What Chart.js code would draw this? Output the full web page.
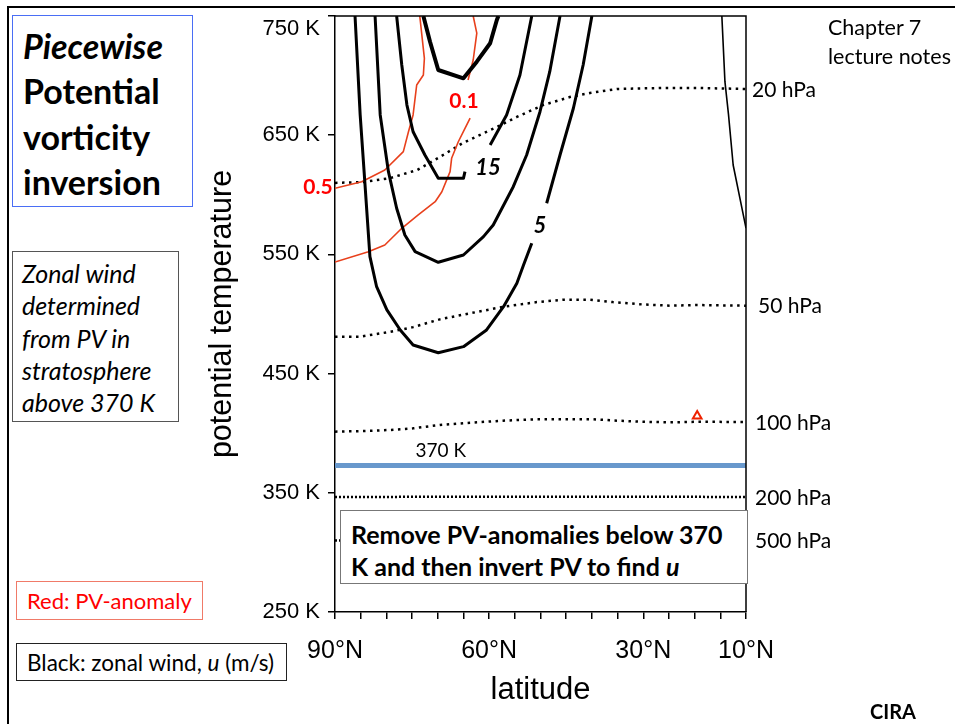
<!DOCTYPE html>
<html>
<head>
<meta charset="utf-8">
<script src="https://cdn.jsdelivr.net/npm/chart.js@4.4.1/dist/chart.umd.min.js"></script>
<style>
  html, body { margin: 0; padding: 0; background: #fff; }
  body { width: 955px; height: 724px; position: relative; overflow: hidden; font-family: Lato, sans-serif; color: #000; }
  #plot { position: absolute; left: 0; top: 0; }
  .frame { position: absolute; left: 7px; top: 6px; width: 980px; height: 760px; border-top: 2px solid #000; border-left: 2px solid #000; }
  .box { position: absolute; box-sizing: border-box; background: #fff; white-space: nowrap; }
  .txt { position: absolute; white-space: nowrap; }
</style>
</head>
<body>
<canvas id="plot" width="955" height="724"></canvas>
<div class="frame"></div>

<div class="box" style="left:12px;top:15px;width:181px;height:192px;border:1px solid #4a6ef5;padding:7px 0 0 10px;font-weight:bold;font-size:34px;line-height:45.3px;">
  <i>Piecewise</i><br>Potential<br>vorticity<br>inversion
</div>

<div class="box" style="left:12px;top:251px;width:167px;height:171px;border:1px solid #555;padding:5px 0 0 9px;font-style:italic;font-size:25px;line-height:32.3px;">
  Zonal wind<br>determined<br>from PV in<br>stratosphere<br>above 370 K
</div>

<div class="box" style="left:16px;top:581px;width:187px;height:39px;border:1px solid #f07a68;padding:1px 0 0 10px;font-size:22px;line-height:35px;color:#ff0000;">
  Red: PV-anomaly
</div>

<div class="box" style="left:16px;top:643px;width:271px;height:38px;border:1px solid #222;padding:1px 0 0 10px;font-size:22.5px;line-height:35px;">
  Black: zonal wind, <i>u</i> (m/s)
</div>

<div class="box" style="left:340px;top:510px;width:408px;height:74px;border:1px solid #777;padding:7px 0 0 10px;font-weight:bold;font-size:25px;line-height:32px;">
  Remove PV-anomalies below 370<br>K and then invert PV to find <i>u</i>
</div>

<div class="txt" style="left:828px;top:13px;font-size:21.5px;line-height:29px;">Chapter 7<br>lecture notes</div>
<div class="txt" style="left:870px;top:700px;font-size:20px;line-height:22px;font-weight:bold;">CIRA</div>

<script>
// latitude (deg N) / potential temperature (K) pairs, null = gap for a label
const u5 = [[86.1, 750], [85.1, 667], [84.2, 611], [83.2, 548.1], [81.9, 522.9], [79.9, 503.4], [77.3, 486.6],
  [74.8, 474], [69.9, 467.5], [65.0, 472.6], [60.5, 486.6], [57.2, 506.1], [54.6, 525.8], [53.3, 541.1],
  [51.7, 559.3], [50.2, null], [48.8, 592.9], [46.2, 633.4], [43.6, 672.6], [41.7, 708.9], [40.0, 750]];
const u10 = [[82.2, 750], [81.2, 667], [79.6, 619.4], [78.0, 588.7], [76.4, 566.3], [74.4, 552.3], [69.9, 543.4],
  [65.0, 549.5], [61.1, 564.9], [59.2, 574.7], [55.3, 606.8], [52.7, 633.4], [50.1, 669.7], [48.2, 703.3], [46.2, 750]];
const u15 = [[78.0, 750], [77.0, 708.9], [76.0, 675.3], [74.8, 652.9], [72.5, 633.4], [69.9, 613.8], [65.0, 613.8],
  [64.7, 619.4], [62.0, null], [59.8, 641.8], [56.6, 667], [54.0, 700.5], [51.7, 750]];
const u20 = [[72.8, 750], [71.5, 728.4], [69.9, 704.7], [65.0, 697.7], [62.4, 711.7], [59.8, 727.1], [58.5, 746.6], [58.2, 750]];
const uTrop = [[14.7, 750], [14.1, 694.9], [13.4, 667], [12.5, 625], [10.0, 572]];

const pvHigh = [[90, 605.5], [84.8, 611], [80.3, 620.8], [76.7, 636.2], [75.7, 652.9], [74.8, 667], [74.1, 692.1],
  [72.8, 700.5], [72.6, 714.5], [73.5, 750]];
const pvLow = [[90, 543.6], [83.5, 552.3], [80.3, 557.9], [77.0, 571.9], [73.8, 583.1], [70.5, 594.2], [69.2, 602.6],
  [67.6, 619.4], [67.3, 630.6], [66.0, 644.5], [64.7, 655.8], [63.7, 664.4], [64.0, null], [64.1, 696.3],
  [63.1, 713.1], [62.4, 735.7], [63.1, 750]];
const pvMark = [[19.5, 414.5]];

const p20 = [[90, 610], [84.5, 610.7], [79.3, 614], [74.0, 620.8], [69.6, 631.7], [65.1, 643.5], [58.5, 656.9],
  [54.6, 665.3], [49.5, 675.3], [44.3, 682], [40.4, 685.4], [35.1, 688.8], [26.2, 689.6], [19.5, 689.6], [10, 688.8]];
const p50 = [[90, 481], [85.1, 481], [79.3, 485], [74.8, 489], [69.6, 495.5], [63.7, 500.6], [57.3, 506], [50.7, 510],
  [45.6, 512], [40.4, 512], [35.9, 510], [30.1, 508], [24.8, 507], [19.5, 507.5], [10, 507]];
const p100 = [[90, 401.3], [84.5, 401.8], [79.3, 402.7], [74.8, 404.1], [69.6, 406.9], [63.7, 408.8], [57.3, 410.5],
  [50.7, 411.7], [45.6, 411.7], [39.8, 411.7], [35.1, 410.5], [30.1, 409.6], [24.8, 409.1], [19.5, 409.6], [10, 409.4]];
const p200 = [[90, 346.5], [60, 346.7], [30, 346.7], [10, 346.5]];
const p500 = [[90, 310], [10, 310]];
const theta370 = [[90, 373], [10, 373]];

const pressureNames = ['20 hPa', '50 hPa', '100 hPa', '200 hPa', '500 hPa'];
const pressureShift = [6, 12, 9, 9, 9];
const windLabels = [['15', 60.2, 622.5], ['5', 50.1, 573.8]];
const pvLabels = [['0.1', 64.9, 678.7], ['0.5', 93.3, 606.5]];
const xTickLabels = { 90: '90°N', 60: '60°N', 30: '30°N', 10: '10°N' };

const pts = (arr) => arr.map(([x, y]) => ({ x, y }));

function line(data, color, width, dash) {
  return {
    data: pts(data),
    showLine: true,
    borderColor: color,
    borderWidth: width,
    borderDash: dash || [],
    borderJoinStyle: 'round',
    pointRadius: 0,
    pointHoverRadius: 0,
    tension: 0,
    spanGaps: false,
    fill: false,
  };
}

const pressureLines = [p20, p50, p100, p200, p500];

const overlay = {
  id: 'overlay',
  afterDatasetsDraw(chart) {
    const { ctx, chartArea: a, scales: { x, y } } = chart;
    ctx.save();
    ctx.strokeStyle = '#000';
    ctx.lineWidth = 1.5;
    ctx.beginPath();
    ctx.moveTo(a.left, a.top);
    ctx.lineTo(a.right, a.top);
    ctx.lineTo(a.right, a.bottom);
    ctx.stroke();

    ctx.textAlign = 'center';
    ctx.textBaseline = 'middle';
    ctx.fillStyle = '#000';
    ctx.font = 'italic bold 22px Lato';
    for (const [t, lat, th] of windLabels) {
      ctx.fillText(t, x.getPixelForValue(lat), y.getPixelForValue(th));
    }
    ctx.fillStyle = '#ff0000';
    ctx.font = 'bold 21px Lato';
    for (const [t, lat, th] of pvLabels) {
      ctx.fillText(t, x.getPixelForValue(lat), y.getPixelForValue(th));
    }

    ctx.fillStyle = '#000';
    ctx.font = '19px Lato';
    ctx.fillText('370 K', x.getPixelForValue(69.4), y.getPixelForValue(385));

    ctx.textAlign = 'left';
    ctx.font = '21px Lato';
    pressureLines.forEach((arr, i) => {
      const last = arr[arr.length - 1];
      ctx.fillText(pressureNames[i], a.right + pressureShift[i], y.getPixelForValue(last[1]) + 1);
    });
    ctx.restore();
  },
};

new Chart(document.getElementById('plot'), {
  type: 'scatter',
  data: {
    datasets: [
      line(u20, '#000', 4),
      line(u15, '#000', 3),
      line(u10, '#000', 3),
      line(u5, '#000', 3),
      line(uTrop, '#000', 1.6),
      line(pvHigh, '#e8401c', 1.6),
      line(pvLow, '#e8401c', 1.6),
      {
        data: pts(pvMark),
        pointStyle: 'triangle',
        pointRadius: 5,
        pointHoverRadius: 5,
        pointBorderWidth: 2,
        pointBorderColor: '#ee2200',
        pointBackgroundColor: '#fff',
        showLine: false,
      },
      line(theta370, '#6898cc', 5),
      line(p20, '#000', 2.5, [2.5, 4.5]),
      line(p50, '#000', 2.5, [2.5, 4.5]),
      line(p100, '#000', 2.5, [2.5, 4.5]),
      line(p200, '#000', 2.5, [2, 2]),
      line(p500, '#000', 2.5, [2, 2]),
    ],
  },
  options: {
    responsive: false,
    animation: false,
    events: [],
    layout: { padding: { left: 204.7, right: 209, top: 16, bottom: 15.4 } },
    plugins: { legend: { display: false }, tooltip: { enabled: false } },
    scales: {
      x: {
        type: 'linear',
        min: 10,
        max: 90,
        reverse: true,
        afterFit: (s) => { s.height = 96.6; s.paddingLeft = 0; s.paddingRight = 0; },
        border: { display: true, color: '#000', width: 1.5 },
        grid: { drawOnChartArea: false, drawTicks: true, tickLength: 7, color: '#000', lineWidth: 1.5 },
        ticks: {
          stepSize: 5,
          autoSkip: false,
          maxRotation: 0,
          padding: 17,
          color: '#000',
          font: { size: 25 },
          callback: (v) => xTickLabels[v] || '',
        },
        title: { display: true, text: 'latitude', color: '#000', font: { size: 31 }, padding: 0 },
      },
      y: {
        type: 'linear',
        min: 250,
        max: 750,
        afterFit: (s) => { s.width = 130.3; s.paddingTop = 0; s.paddingBottom = 0; },
        border: { display: true, color: '#000', width: 1.5 },
        grid: { drawOnChartArea: false, drawTicks: true, tickLength: 7, color: '#000', lineWidth: 1.5 },
        ticks: {
          stepSize: 100,
          padding: 8,
          color: '#000',
          font: { size: 22 },
          callback: (v) => (v === 750 ? ['', '750 K'] : v + ' K'),
        },
        title: { display: true, text: 'potential temperature', color: '#000', font: { size: 30.5 }, padding: 0 },
      },
    },
  },
  plugins: [overlay],
});
</script>
</body>
</html>
